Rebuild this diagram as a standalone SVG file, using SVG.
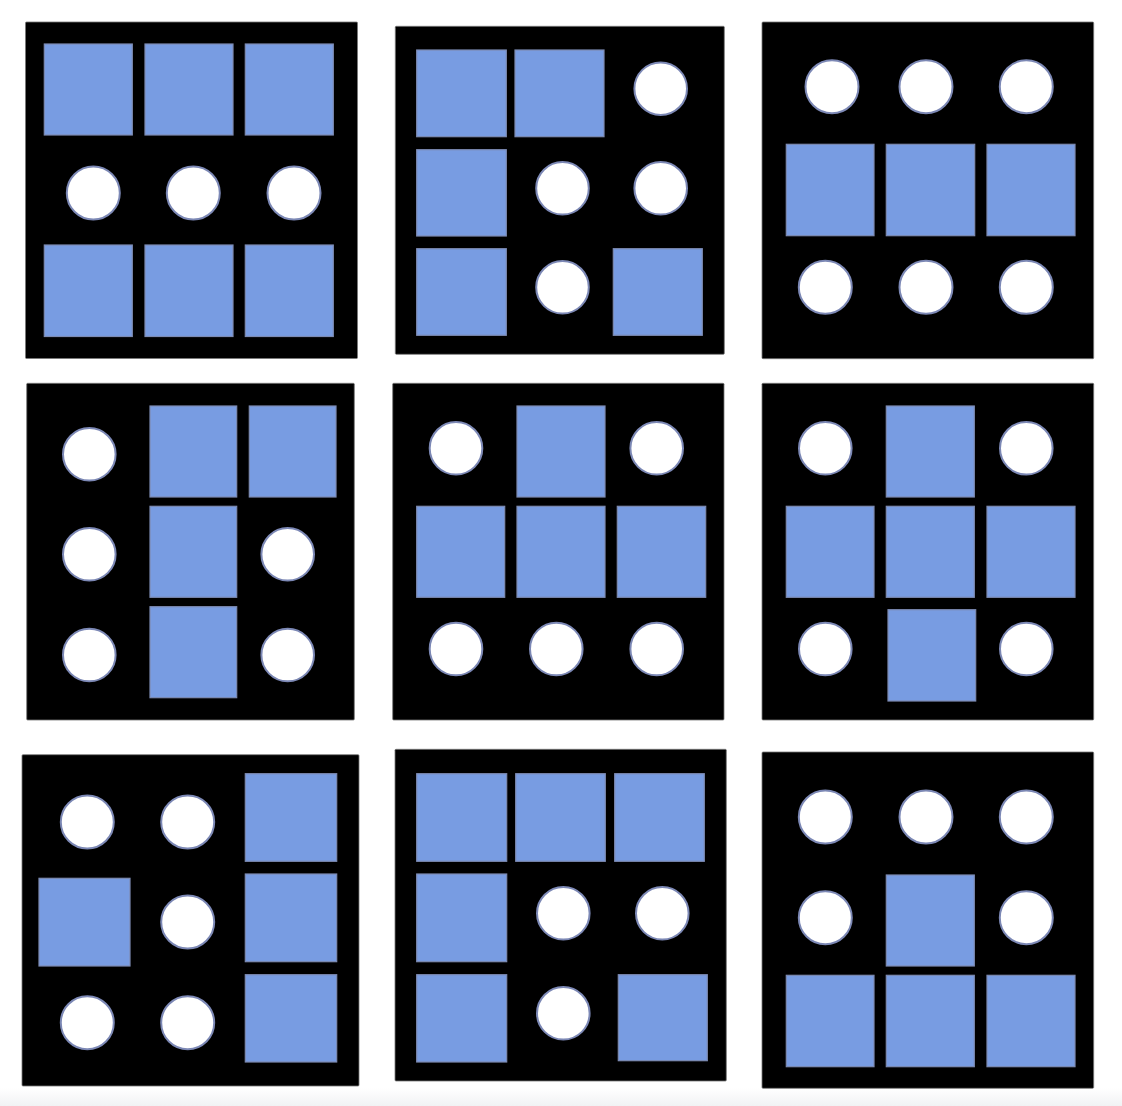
<svg xmlns="http://www.w3.org/2000/svg" width="1122" height="1106" viewBox="0 0 1122 1106">
<defs>
<linearGradient id="fade" x1="0" y1="0" x2="0" y2="1">
<stop offset="0" stop-color="#ffffff"/>
<stop offset="1" stop-color="#f1f2f4"/>
</linearGradient>
</defs>
<style>
.panel{fill:#000;stroke:#777;stroke-width:0.8}
.sq{fill:#789ce2;stroke:#7d8bb3;stroke-width:1.2}
.ci{fill:#fff;stroke:#7c88b5;stroke-width:2}
</style>
<rect width="1122" height="1106" fill="#fff"/>
<rect x="0" y="1088" width="1122" height="18" fill="url(#fade)"/>

<g id="panel-1">
<rect class="panel" x="25.5" y="22" width="332" height="336.5" rx="1"/>
<rect class="sq" x="44.3" y="44" width="88" height="91"/>
<rect class="sq" x="145" y="44" width="88" height="91"/>
<rect class="sq" x="245.3" y="44" width="88" height="91"/>
<circle class="ci" cx="93.3" cy="193" r="26.5"/>
<circle class="ci" cx="193.3" cy="193" r="26.5"/>
<circle class="ci" cx="294" cy="193" r="26.5"/>
<rect class="sq" x="44.3" y="245" width="88" height="91.5"/>
<rect class="sq" x="145" y="245" width="88" height="91.5"/>
<rect class="sq" x="245.3" y="245" width="88" height="91.5"/>
</g>

<g id="panel-2">
<rect class="panel" x="395.3" y="26.3" width="329" height="328" rx="1"/>
<rect class="sq" x="416.7" y="50" width="89.6" height="86.7"/>
<rect class="sq" x="515" y="50" width="89" height="86.7"/>
<circle class="ci" cx="660.7" cy="88.7" r="26.3"/>
<rect class="sq" x="416.7" y="149.7" width="89.6" height="86.3"/>
<circle class="ci" cx="562.5" cy="188.3" r="26.3"/>
<circle class="ci" cx="660.7" cy="188.3" r="26.3"/>
<rect class="sq" x="416.7" y="248.7" width="89.6" height="86.6"/>
<circle class="ci" cx="562.5" cy="287.3" r="26.3"/>
<rect class="sq" x="613.3" y="248.7" width="89" height="86.6"/>
</g>

<g id="panel-3">
<rect class="panel" x="762" y="22" width="331.7" height="336.7" rx="1"/>
<circle class="ci" cx="832" cy="86.7" r="26.5"/>
<circle class="ci" cx="926" cy="86.7" r="26.5"/>
<circle class="ci" cx="1026.3" cy="86.7" r="26.5"/>
<rect class="sq" x="786.3" y="144.3" width="87.7" height="91.4"/>
<rect class="sq" x="886.3" y="144.3" width="88.4" height="91.4"/>
<rect class="sq" x="987" y="144.3" width="88" height="91.4"/>
<circle class="ci" cx="825.3" cy="287.3" r="26.5"/>
<circle class="ci" cx="926" cy="287.3" r="26.5"/>
<circle class="ci" cx="1026.3" cy="287.3" r="26.5"/>
</g>

<g id="panel-4">
<rect class="panel" x="26.7" y="383.3" width="327.6" height="336.7" rx="1"/>
<circle class="ci" cx="89.3" cy="454.3" r="26.3"/>
<rect class="sq" x="150" y="406" width="86.7" height="91"/>
<rect class="sq" x="249.3" y="406" width="86.7" height="91"/>
<circle class="ci" cx="89.3" cy="554.3" r="26.3"/>
<rect class="sq" x="150" y="506.3" width="86.7" height="91"/>
<circle class="ci" cx="287.7" cy="554.3" r="26.3"/>
<circle class="ci" cx="89.3" cy="655" r="26.3"/>
<rect class="sq" x="150" y="606.7" width="86.7" height="91"/>
<circle class="ci" cx="287.7" cy="655" r="26.3"/>
</g>

<g id="panel-5">
<rect class="panel" x="392.7" y="383.3" width="331.3" height="336.7" rx="1"/>
<circle class="ci" cx="456" cy="448.3" r="26.3"/>
<rect class="sq" x="517" y="406" width="88" height="91"/>
<circle class="ci" cx="656.7" cy="448.3" r="26.3"/>
<rect class="sq" x="416.7" y="506.3" width="88" height="91"/>
<rect class="sq" x="517" y="506.3" width="88" height="91"/>
<rect class="sq" x="617.3" y="506.3" width="88.4" height="91"/>
<circle class="ci" cx="456" cy="649" r="26.3"/>
<circle class="ci" cx="556.3" cy="649" r="26.3"/>
<circle class="ci" cx="656.7" cy="649" r="26.3"/>
</g>

<g id="panel-6">
<rect class="panel" x="762" y="383.3" width="331.7" height="336.7" rx="1"/>
<circle class="ci" cx="825.3" cy="448.3" r="26.3"/>
<rect class="sq" x="886.3" y="406" width="88" height="91"/>
<circle class="ci" cx="1026.3" cy="448.3" r="26.3"/>
<rect class="sq" x="786.3" y="506.3" width="87.7" height="91"/>
<rect class="sq" x="886.3" y="506.3" width="88" height="91"/>
<rect class="sq" x="987" y="506.3" width="88" height="91"/>
<circle class="ci" cx="825.3" cy="649" r="26.3"/>
<rect class="sq" x="888" y="609.7" width="87.7" height="91.3"/>
<circle class="ci" cx="1026.3" cy="649" r="26.3"/>
</g>

<g id="panel-7">
<rect class="panel" x="22" y="754.7" width="337" height="331.3" rx="1"/>
<circle class="ci" cx="87.3" cy="822" r="26.5"/>
<circle class="ci" cx="187.7" cy="822" r="26.5"/>
<rect class="sq" x="245.3" y="773.7" width="91.4" height="87.6"/>
<rect class="sq" x="39" y="878.3" width="91" height="87.7"/>
<circle class="ci" cx="187.7" cy="922" r="26.5"/>
<rect class="sq" x="245.3" y="874" width="91.4" height="87.7"/>
<circle class="ci" cx="87.3" cy="1022.7" r="26.5"/>
<circle class="ci" cx="187.7" cy="1022.7" r="26.5"/>
<rect class="sq" x="245.3" y="974.7" width="91.4" height="87.3"/>
</g>

<g id="panel-8">
<rect class="panel" x="395" y="749.3" width="331.3" height="331.7" rx="1"/>
<rect class="sq" x="416.7" y="773.7" width="90" height="87.6"/>
<rect class="sq" x="515.7" y="773.7" width="89.6" height="87.6"/>
<rect class="sq" x="614.7" y="773.7" width="89.6" height="87.6"/>
<rect class="sq" x="416.7" y="874" width="90" height="87.7"/>
<circle class="ci" cx="563.3" cy="913.3" r="26.3"/>
<circle class="ci" cx="662.3" cy="913.3" r="26.3"/>
<rect class="sq" x="416.7" y="974.7" width="90" height="87.3"/>
<circle class="ci" cx="563.3" cy="1013.3" r="26.3"/>
<rect class="sq" x="618.3" y="974.7" width="89" height="86"/>
</g>

<g id="panel-9">
<rect class="panel" x="762" y="752" width="331.7" height="336.3" rx="1"/>
<circle class="ci" cx="825.3" cy="817" r="26.5"/>
<circle class="ci" cx="926" cy="817" r="26.5"/>
<circle class="ci" cx="1026.3" cy="817" r="26.5"/>
<circle class="ci" cx="825.3" cy="917.7" r="26.5"/>
<rect class="sq" x="886.3" y="875" width="88" height="91"/>
<circle class="ci" cx="1026.3" cy="917.7" r="26.5"/>
<rect class="sq" x="786.3" y="975.3" width="87.7" height="91.4"/>
<rect class="sq" x="886.3" y="975.3" width="88" height="91.4"/>
<rect class="sq" x="987" y="975.3" width="88" height="91.4"/>
</g>
</svg>
